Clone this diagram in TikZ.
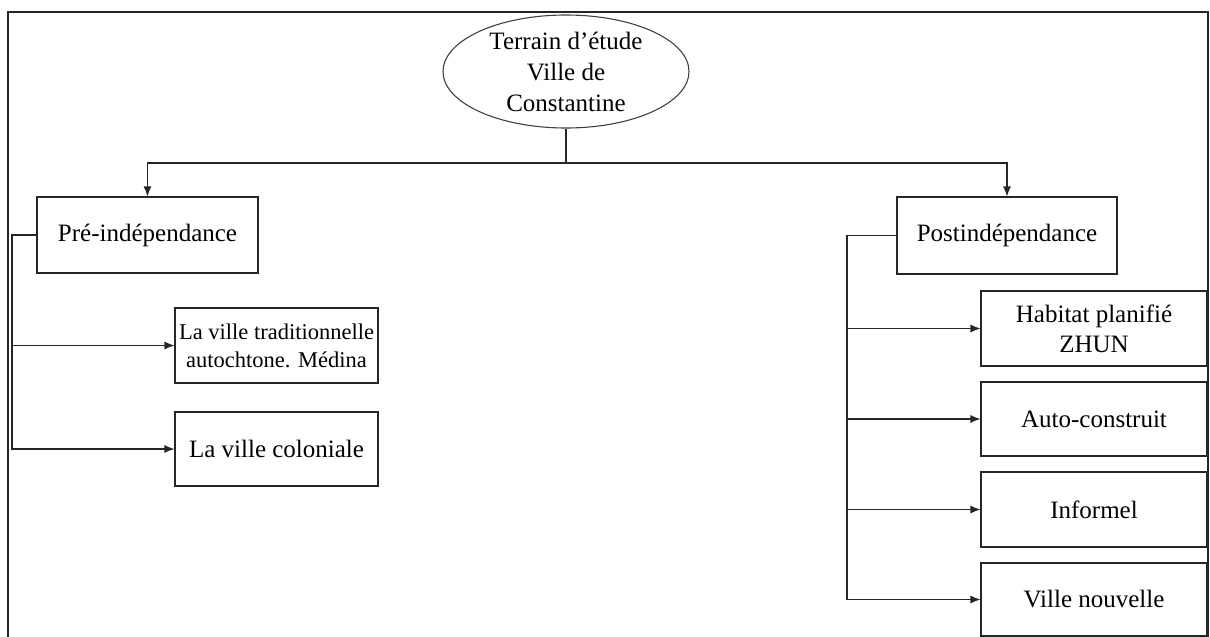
\documentclass[tikz,border=0pt]{standalone}
\usepackage{fontspec}
\setmainfont{Liberation Serif}
\usetikzlibrary{shapes.geometric,arrows.meta}
\begin{document}
\begin{tikzpicture}[x=1pt,y=-1pt,
  every node/.style={text=black},
  line/.style={draw=black!85, line width=1.1pt},
  arr/.style={line, -{Latex[length=10pt,width=8pt]}},
  box/.style={draw=black!85, line width=1.1pt, rectangle, inner sep=0pt, align=center, font=\fontsize{25}{30}\selectfont},
  topell/.style={draw=black!75, line width=1.1pt, ellipse, inner sep=0pt, minimum width=246pt, minimum height=113pt, align=center, font=\fontsize{25}{31}\selectfont}]
\useasboundingbox (0,0) rectangle (1210,637);
% frame
\draw[line] (8,637) -- (8,12) -- (1208,12) -- (1208,637);
% nodes
\node[topell] (top) at (566,71.5) {Terrain d’étude\\Ville de\\Constantine};
\node[box, minimum width=221pt, minimum height=76pt] (pre) at (147.5,235) {Pré-indépendance};
\node[box, minimum width=220pt, minimum height=77pt] (post) at (1007,235.5) {Postindépendance};
\node[box, minimum width=203pt, minimum height=75pt, font=\fontsize{22.5}{28}\selectfont] (l1) at (276.5,345.5) {La ville traditionnelle\\autochtone. Médina};
\node[box, minimum width=203pt, minimum height=74pt] (l2) at (276.5,449) {La ville coloniale};
\node[box, minimum width=226pt, minimum height=75pt] (r1) at (1094,328.5) {Habitat planifié\\ZHUN};
\node[box, minimum width=226pt, minimum height=74pt] (r2) at (1094,419) {Auto-construit};
\node[box, minimum width=226pt, minimum height=75pt] (r3) at (1094,509.5) {Informel};
\node[box, minimum width=226pt, minimum height=73pt] (r4) at (1094,599.5) {Ville nouvelle};
% junctions
\coordinate (j) at (566,163);
\coordinate (lx) at (12,0);
\coordinate (rx) at (847,0);
% connectors
\draw[line] (top.south) -- (j);
\draw[arr] (j) -| (pre.north);
\draw[arr] (j) -| (post.north);
\draw[arr] (pre.west) -| (lx |- l1.west) -- (l1.west);
\draw[arr] (pre.west) -| (lx |- l2.west) -- (l2.west);
\draw[arr] (post.west) -| (rx |- r1.west) -- (r1.west);
\draw[arr] (post.west) -| (rx |- r2.west) -- (r2.west);
\draw[arr] (post.west) -| (rx |- r3.west) -- (r3.west);
\draw[arr] (post.west) -| (rx |- r4.west) -- (r4.west);
\end{tikzpicture}
\end{document}
